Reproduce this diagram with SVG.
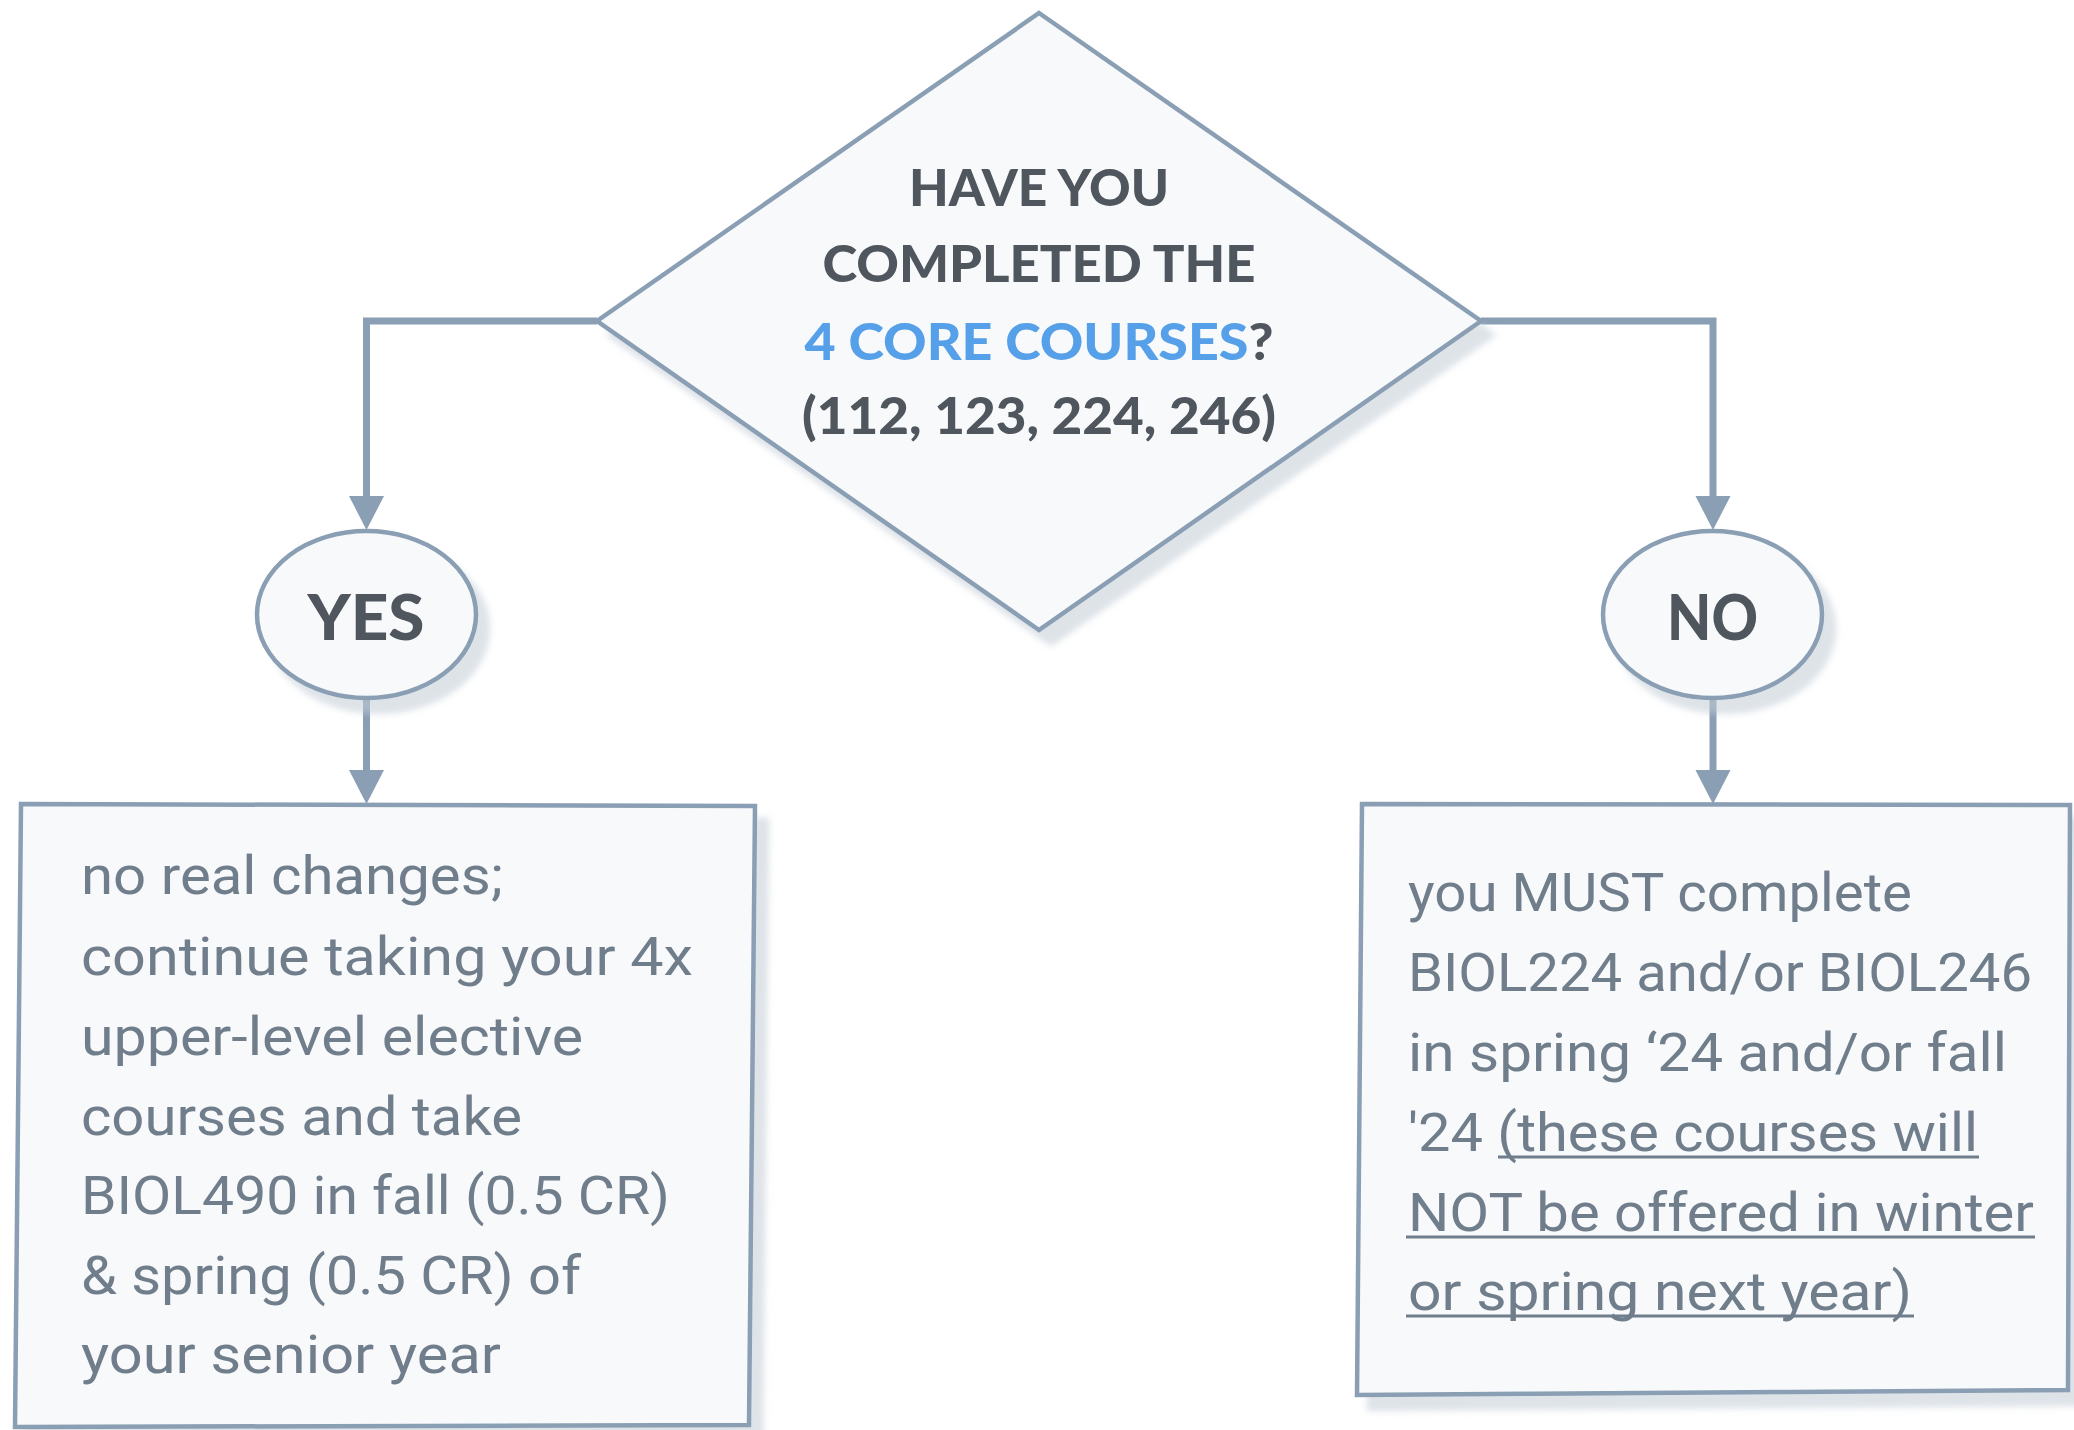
<svg xmlns="http://www.w3.org/2000/svg" width="2074" height="1430" viewBox="0 0 2074 1430">
  <defs>
    <filter id="shadow" x="-10%" y="-10%" width="130%" height="130%">
      <feDropShadow dx="12" dy="14" stdDeviation="3" flood-color="#c3ccd6" flood-opacity="0.55"/>
    </filter>
    <marker id="arrow" markerUnits="userSpaceOnUse" markerWidth="36" markerHeight="36" refX="0" refY="17.5" orient="auto">
      <path d="M0,0 L34,17.5 L0,35 Z" fill="#8a9eb4"/>
    </marker>
    <style>
      .shape { fill: #f8f9fb; stroke: #8a9eb4; stroke-width: 4.5; }
      .conn { fill: none; stroke: #8a9eb4; stroke-width: 7; stroke-linejoin: miter; }
      .q { font-family: Lato, "Noto Sans", sans-serif; font-weight: 900; font-size: 52px; fill: #50565e; text-anchor: middle; }
      .yn { font-family: Lato, "Noto Sans", sans-serif; font-weight: 900; font-size: 62px; fill: #50565e; text-anchor: middle; }
      .body { font-family: Roboto, "Liberation Sans", sans-serif; font-size: 54px; fill: #707d8b; }
      .blue { fill: #55a0e8; }
      .ul { stroke: #707d8b; stroke-width: 3; }
    </style>
  </defs>

  <g id="connectors">
    <path class="conn" d="M597,321 H366.5 V496" marker-end="url(#arrow)"/>
    <path class="conn" d="M1481,321 H1713 V496" marker-end="url(#arrow)"/>
    <path class="conn" d="M366.5,698 V770" marker-end="url(#arrow)"/>
    <path class="conn" d="M1713,698 V770" marker-end="url(#arrow)"/>
  </g>

  <g id="question">
    <polygon class="shape" filter="url(#shadow)" points="1039,13 1481,321 1039,630 597,321"/>
    <text class="q" x="1039" y="206" textLength="260" lengthAdjust="spacingAndGlyphs">HAVE YOU</text>
    <text class="q" x="1039" y="282" textLength="433" lengthAdjust="spacingAndGlyphs">COMPLETED THE</text>
    <text class="q" x="1039" y="360" textLength="469" lengthAdjust="spacingAndGlyphs"><tspan class="blue">4 CORE COURSES</tspan>?</text>
    <text class="q" x="1039" y="434" textLength="474" lengthAdjust="spacingAndGlyphs">(112, 123, 224, 246)</text>
  </g>

  <g id="yes">
    <ellipse class="shape" filter="url(#shadow)" cx="366.5" cy="614.5" rx="109.5" ry="83.5"/>
    <text class="yn" x="366" y="640" textLength="117" lengthAdjust="spacingAndGlyphs">YES</text>
  </g>

  <g id="no">
    <ellipse class="shape" filter="url(#shadow)" cx="1712.5" cy="614.5" rx="109.5" ry="83.5"/>
    <text class="yn" x="1712.5" y="640" textLength="91" lengthAdjust="spacingAndGlyphs">NO</text>
  </g>

  <g id="yes-box">
    <polygon class="shape" filter="url(#shadow)" points="21,804 755,806 749,1425 15,1427"/>
    <text class="body" x="81" y="894" textLength="422" lengthAdjust="spacingAndGlyphs">no real changes;</text>
    <text class="body" x="81" y="975" textLength="612" lengthAdjust="spacingAndGlyphs">continue taking your 4x</text>
    <text class="body" x="81" y="1055" textLength="502" lengthAdjust="spacingAndGlyphs">upper-level elective</text>
    <text class="body" x="81" y="1135" textLength="441" lengthAdjust="spacingAndGlyphs">courses and take</text>
    <text class="body" x="81" y="1214" textLength="589" lengthAdjust="spacingAndGlyphs">BIOL490 in fall (0.5 CR)</text>
    <text class="body" x="81" y="1294" textLength="500" lengthAdjust="spacingAndGlyphs">&amp; spring (0.5 CR) of</text>
    <text class="body" x="81" y="1373" textLength="420" lengthAdjust="spacingAndGlyphs">your senior year</text>
  </g>

  <g id="no-box">
    <polygon class="shape" filter="url(#shadow)" points="1362,804 2070,805 2068,1390 1357,1395"/>
    <text class="body" x="1408" y="911" textLength="504" lengthAdjust="spacingAndGlyphs">you MUST complete</text>
    <text class="body" x="1408" y="991" textLength="624" lengthAdjust="spacingAndGlyphs">BIOL224 and/or BIOL246</text>
    <text class="body" x="1408" y="1071" textLength="599" lengthAdjust="spacingAndGlyphs">in spring ‘24 and/or fall</text>
    <text class="body" x="1408" y="1151" textLength="570" lengthAdjust="spacingAndGlyphs">'24 (these courses will</text>
    <text class="body" x="1408" y="1231" textLength="626" lengthAdjust="spacingAndGlyphs">NOT be offered in winter</text>
    <text class="body" x="1408" y="1310" textLength="504" lengthAdjust="spacingAndGlyphs">or spring next year)</text>
    <line class="ul" x1="1498" y1="1157" x2="1979" y2="1157"/>
    <line class="ul" x1="1406" y1="1237" x2="2035" y2="1237"/>
    <line class="ul" x1="1406" y1="1316" x2="1914" y2="1316"/>
  </g>
</svg>
